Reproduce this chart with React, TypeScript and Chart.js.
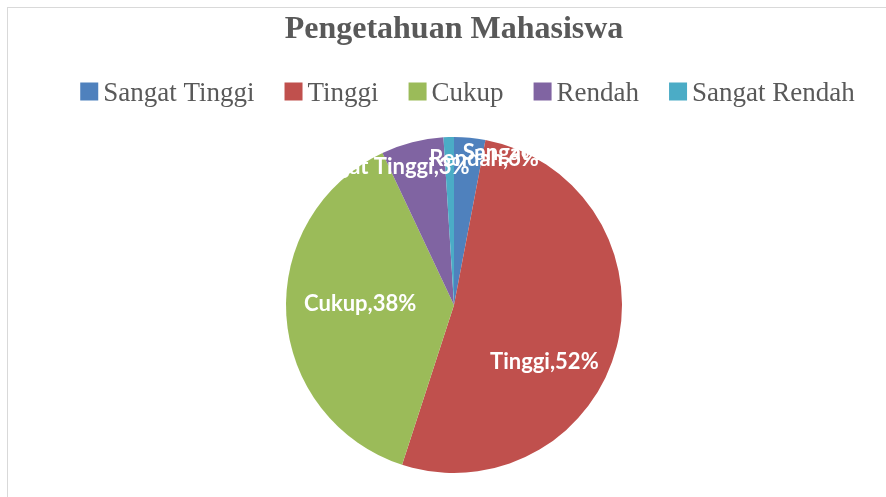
import React, { useEffect, useRef } from 'react';
import { Chart, registerables } from 'chart.js';

Chart.register(...registerables);

const chartTitle = 'Pengetahuan Mahasiswa';
const categories = ['Sangat Tinggi', 'Tinggi', 'Cukup', 'Rendah', 'Sangat Rendah'];
const percentages = [3, 52, 38, 6, 1];
const sliceColors = ['#4F81BD', '#C0504D', '#9BBB59', '#8064A2', '#4BACC6'];

const sliceLabelPlugin = {
  id: 'sliceLabels',
  afterDatasetsDraw(chart: any, _args: any, opts: any) {
    const meta = chart.getDatasetMeta(0);
    const ctx = chart.ctx;
    ctx.save();
    ctx.font = `bold ${opts.size}px ${opts.family}`;
    ctx.fillStyle = opts.color;
    ctx.textAlign = 'center';
    ctx.textBaseline = 'middle';
    meta.data.forEach((arc: any, i: number) => {
      const p = arc.getProps(['x', 'y', 'startAngle', 'endAngle', 'outerRadius'], true);
      const mid = (p.startAngle + p.endAngle) / 2;
      const rr = p.outerRadius * 0.5;
      const off = (opts.offsets && opts.offsets[i]) || [0, 0];
      const px = p.x + Math.cos(mid) * rr + off[0];
      const py = p.y + Math.sin(mid) * rr + off[1];
      const text = `${chart.data.labels[i]},${chart.data.datasets[0].data[i]}%`;
      ctx.fillText(text, px, py);
    });
    ctx.restore();
  },
};

const officeLegendPlugin = {
  id: 'officeLegend',
  afterDraw(chart: any, _args: any, opts: any) {
    const ctx = chart.ctx;
    const labels: string[] = chart.data.labels;
    const colors: string[] = chart.data.datasets[0].backgroundColor;
    ctx.save();
    ctx.font = `${opts.size}px ${opts.family}`;
    const widths = labels.map((l) => ctx.measureText(l).width);
    const total =
      widths.reduce((s, w) => s + opts.box + opts.textGap + w, 0) + opts.itemGap * (labels.length - 1);
    let x = opts.centerX - total / 2;
    ctx.textBaseline = 'alphabetic';
    ctx.textAlign = 'left';
    labels.forEach((l, i) => {
      ctx.fillStyle = colors[i];
      ctx.fillRect(x, opts.boxTop, opts.box, opts.box);
      ctx.fillStyle = opts.color;
      ctx.fillText(l, x + opts.box + opts.textGap, opts.baseline);
      x += opts.box + opts.textGap + widths[i] + opts.itemGap;
    });
    ctx.restore();
  },
};

export default function App() {
  const canvasRef = useRef<HTMLCanvasElement | null>(null);

  useEffect(() => {
    if (!canvasRef.current) return;
    const chart = new Chart(canvasRef.current, {
      type: 'pie',
      data: {
        labels: categories,
        datasets: [
          {
            data: percentages,
            backgroundColor: sliceColors,
            borderWidth: 0,
          } as any,
        ],
      },
      plugins: [sliceLabelPlugin as any, officeLegendPlugin as any],
      options: {
        responsive: false,
        animation: false,
        layout: { padding: { left: 22, right: 0, top: 0, bottom: 24 } },
        plugins: {
          tooltip: { enabled: false },
          legend: { display: false },
          title: {
            display: true,
            text: chartTitle,
            color: '#595959',
            font: { family: '"Liberation Serif", serif', size: 32, weight: 'bold' },
            padding: { top: 10.8, bottom: 87.8 },
          },
          officeLegend: {
            size: 27,
            family: '"Liberation Serif", serif',
            color: '#595959',
            box: 18,
            textGap: 5,
            itemGap: 30,
            centerX: 467.5,
            boxTop: 82.5,
            baseline: 101,
          },
          sliceLabels: {
            size: 22,
            family: 'Lato, "Liberation Sans", sans-serif',
            color: '#ffffff',
            offsets: [[-76, -54], [9, 36], [-10, -6], [51, -65], [102, -68]],
          },
        } as any,
      },
    });
    return () => chart.destroy();
  }, []);

  return (
    <div style={{ position: 'fixed', left: 0, top: 0, width: 886, height: 497, background: '#ffffff', overflow: 'hidden' }}>
      <div
        style={{
          position: 'absolute',
          left: 7,
          top: 7,
          width: 900,
          height: 500,
          border: '1px solid #d9d9d9',
          boxSizing: 'border-box',
        }}
      />
      <canvas ref={canvasRef} width={886} height={497} style={{ position: 'absolute', left: 0, top: 0 }} />
    </div>
  );
}
